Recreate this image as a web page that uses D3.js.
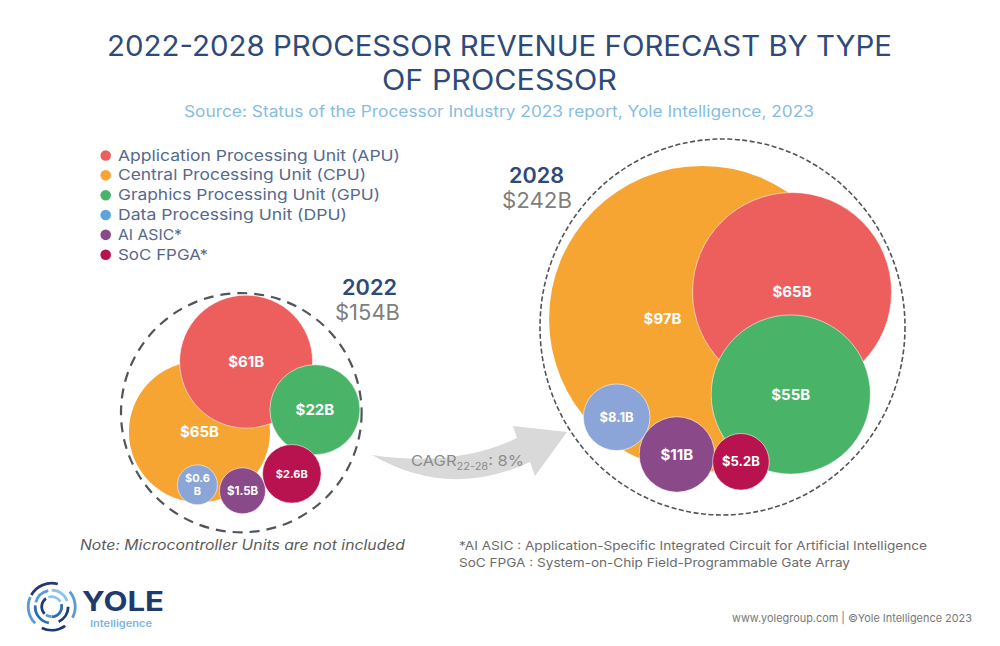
<!DOCTYPE html>
<html lang="en">
<head>
<meta charset="UTF-8">
<title>2022-2028 Processor Revenue Forecast</title>
<script src="https://d3js.org/d3.v7.min.js"></script>
<style>
  html, body { margin: 0; padding: 0; background: #fff; }
  svg { display: block; }
  text { font-family: Inter, "Open Sans", sans-serif; }
</style>
</head>
<body>
<script>
// data
var categories = ["APU", "CPU", "GPU", "DPU", "AI ASIC", "SoC FPGA"];
var legendLabels = [
  "Application Processing Unit (APU)",
  "Central Processing Unit (CPU)",
  "Graphics Processing Unit (GPU)",
  "Data Processing Unit (DPU)",
  "AI ASIC*",
  "SoC FPGA*"
];
var values2022 = [61, 65, 22, 0.6, 1.5, 2.6];
var values2028 = [65, 97, 55, 8.1, 11, 5.2];
var total2022 = 154;
var total2028 = 242;
var cagr = 8;

// bubble layout, unit coordinates inside each dashed ring
var xUnit2022 = [0.04, -0.348, 0.612, -0.365, 0.01, 0.42];
var yUnit2022 = [-0.427, 0.161, -0.025, 0.603, 0.653, 0.511];
var xUnit2028 = [0.381, -0.112, 0.374, -0.58, -0.25, 0.101];
var yUnit2028 = [-0.186, -0.043, 0.359, 0.48, 0.678, 0.717];

// the source bubbles are not strictly area-proportional, so the scale is piecewise
var radiusRange2022 = [20, 23, 29.3, 45, 66.5, 70.5];
var radiusRange2028 = [28.3, 33.3, 37.7, 79.6, 99.5, 153];

var bubbleColors = ["#ed5f5c", "#f6a533", "#49b467", "#8ba5d8", "#8a4a8a", "#b8124f"];
var legendColors = ["#ed5f5c", "#f6a533", "#49b467", "#5ba5de", "#8a4a8a", "#b8124f"];
var drawOrder = [1, 0, 2, 3, 4, 5];
var navy = "#2f4a7a";

var w = 1000, h = 646;
var svg = d3.select("body").append("svg")
  .attr("width", w)
  .attr("height", h)
  .attr("viewBox", "0 0 " + w + " " + h);

// width is forced so the text runs as wide as the source's Montserrat
function label(parent, str, x, y, size, color, opts) {
  opts = opts || {};
  var t = parent.append("text")
    .attr("x", x)
    .attr("y", y)
    .attr("font-size", size)
    .attr("fill", color)
    .attr("text-anchor", opts.anchor || "start")
    .attr("font-weight", opts.weight || 400)
    .text(str);
  if (opts.italic) t.attr("font-style", "italic");
  if (opts.width) t.attr("textLength", opts.width).attr("lengthAdjust", "spacingAndGlyphs");
  return t;
}

// title block
label(svg, "2022-2028 PROCESSOR REVENUE FORECAST BY TYPE", 499.5, 56, 28, navy, {anchor: "middle", width: 785});
label(svg, "OF PROCESSOR", 499.5, 90, 28, navy, {anchor: "middle", width: 235});
label(svg, "Source: Status of the Processor Industry 2023 report, Yole Intelligence, 2023", 499, 117, 15.5, "#85bde5", {anchor: "middle", width: 630});

// legend
var legendY = d3.scalePoint().domain(categories).range([155.5, 254.7]);
var legendWidths = [282, 248, 262, 229, 64, 90];
var legend = svg.append("g");
categories.forEach(function (c, i) {
  legend.append("circle")
    .attr("cx", 105.7)
    .attr("cy", legendY(c))
    .attr("r", 5.3)
    .attr("fill", legendColors[i]);
  label(legend, legendLabels[i], 118, legendY(c) + 5, 15, "#56698f", {width: legendWidths[i]});
});

function drawPanel(cfg) {
  var g = svg.append("g");
  var x = d3.scaleLinear().domain([-1, 1]).range([cfg.cx - cfg.rx, cfg.cx + cfg.rx]);
  var y = d3.scaleLinear().domain([-1, 1]).range([cfg.cy - cfg.ry, cfg.cy + cfg.ry]);
  var r = d3.scalePow().exponent(0.5)
    .domain(cfg.values.slice().sort(d3.ascending))
    .range(cfg.radii);

  g.append("ellipse")
    .attr("cx", x(0))
    .attr("cy", y(0))
    .attr("rx", cfg.rx)
    .attr("ry", cfg.ry)
    .attr("fill", "none")
    .attr("stroke", "#50555b")
    .attr("stroke-width", cfg.ringWidth)
    .attr("stroke-dasharray", cfg.ringDash);

  var rows = drawOrder.map(function (i) {
    return {i: i, v: cfg.values[i], x: x(cfg.xs[i]), y: y(cfg.ys[i])};
  });

  g.selectAll("circle.bubble")
    .data(rows)
    .enter().append("circle")
    .attr("class", "bubble")
    .attr("cx", function (d) { return d.x; })
    .attr("cy", function (d) { return d.y; })
    .attr("r", function (d) { return r(d.v); })
    .attr("fill", function (d) { return bubbleColors[d.i]; })
    .attr("stroke", "#fff")
    .attr("stroke-opacity", function (d) { return d.i == 1 ? 0 : 0.7; })
    .attr("stroke-width", 0.8);

  rows.forEach(function (d) {
    var size = cfg.labelSizes[d.i];
    var lx = d.x + (cfg.labelDx[d.i] || 0);
    var str = "$" + d.v + "B";
    if (str == "$0.6B") {
      // too narrow for one line, it wraps in the source too
      label(g, "$0.6", lx, d.y - 2.5, size, "#fff", {anchor: "middle", weight: 700});
      label(g, "B", lx, d.y + 10, size, "#fff", {anchor: "middle", weight: 700});
    } else {
      label(g, str, lx, d.y + size * 0.36, size, "#fff", {anchor: "middle", weight: 700});
    }
  });

  label(g, cfg.year, cfg.yearX, cfg.yearY, 21, navy, {anchor: "middle", weight: 600, width: 55});
  label(g, "$" + cfg.total + "B", cfg.totalX, cfg.yearY + 25, 21, "#7f7f7f", {anchor: "middle", width: cfg.totalWidth});
}

drawPanel({
  cx: 241.3, cy: 412.7, rx: 120.3, ry: 119.6,
  values: values2022, xs: xUnit2022, ys: yUnit2022, radii: radiusRange2022,
  ringWidth: 2.2, ringDash: "10 7",
  labelSizes: [15, 15, 15, 11, 11.5, 11], labelDx: [],
  year: "2022", yearX: 369.5, totalX: 367.5, yearY: 295, total: total2022, totalWidth: 65
});

// arrow goes under the right panel's ring tip
var arrow = d3.path();
arrow.moveTo(372, 455);
arrow.quadraticCurveTo(455.5, 467.5, 517, 438);
arrow.lineTo(513, 426);
arrow.lineTo(567, 432);
arrow.lineTo(535, 476);
arrow.lineTo(530, 462);
arrow.quadraticCurveTo(449, 499.5, 372, 455);
arrow.closePath();
svg.append("path").attr("d", arrow.toString()).attr("fill", "#d9d9d9");

var cagrText = label(svg, "CAGR", 411, 466, 15, "#8c8c8c");
cagrText.append("tspan").attr("dy", 4).attr("font-size", 10).text("22-28");
cagrText.append("tspan").attr("dy", -4).text(": " + cagr + "%");
cagrText.attr("textLength", 113).attr("lengthAdjust", "spacingAndGlyphs");

drawPanel({
  cx: 722.5, cy: 327, rx: 182.5, ry: 188,
  values: values2028, xs: xUnit2028, ys: yUnit2028, radii: radiusRange2028,
  ringWidth: 1.6, ringDash: "5 2.5",
  labelSizes: [15, 15, 15, 13, 15, 13], labelDx: [0, -39.5],
  year: "2028", yearX: 536.5, totalX: 537, yearY: 183, total: total2028, totalWidth: 70
});

// notes
label(svg, "Note: Microcontroller Units are not included", 80, 550, 14, "#5a5a5a", {italic: true, width: 325});
label(svg, "*AI ASIC : Application-Specific Integrated Circuit for Artificial Intelligence", 459, 550, 12, "#6b6b6b", {width: 468});
label(svg, "SoC FPGA : System-on-Chip Field-Programmable Gate Array", 459, 566.5, 12, "#6b6b6b", {width: 391});
label(svg, "www.yolegroup.com | ©Yole Intelligence 2023", 732, 622, 11, "#777", {width: 240});

// logo: broken concentric rings, angles in degrees clockwise from the top
var logoArcs = [
  [23.5, -60, 15, "#1f3a6e"], [23.5, -135, -66, "#5b9bd5"], [23.5, 50, 118, "#5b9bd5"],
  [23.5, 145, 205, "#1f3a6e"], [16.5, -75, -12, "#5b9bd5"], [16.5, 0, 70, "#8cc4ee"],
  [16.5, -170, -85, "#2f6db0"], [16.5, 90, 155, "#1f3a6e"], [10, -20, 60, "#8cc4ee"],
  [10, -135, -35, "#1f3a6e"], [10, 75, 180, "#2f6db0"], [10, -178, -145, "#5b9bd5"]
];
var logo = svg.append("g").attr("transform", "translate(51.7,606.7)");
var logoArc = d3.arc();
logo.selectAll("path")
  .data(logoArcs)
  .enter().append("path")
  .attr("d", function (d) {
    return logoArc({
      innerRadius: d[0] - 1.4,
      outerRadius: d[0] + 1.4,
      startAngle: d[1] * Math.PI / 180,
      endAngle: d[2] * Math.PI / 180,
      cornerRadius: 1.4
    });
  })
  .attr("fill", function (d) { return d[3]; });
label(svg, "YOLE", 82, 611, 27, "#1f3a6e", {weight: 700, width: 82});
label(svg, "Intelligence", 90, 626.5, 9.5, "#7db5e5", {weight: 600, width: 62});
</script>
</body>
</html>
